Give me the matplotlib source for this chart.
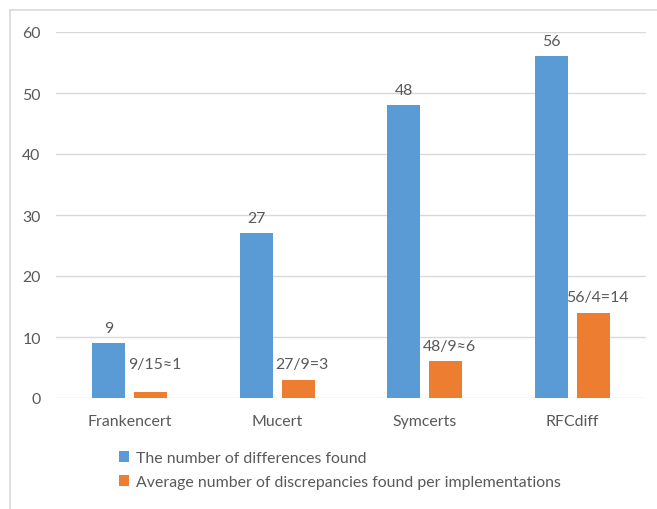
import numpy as np
import matplotlib.pyplot as plt
from matplotlib.lines import Line2D

plt.rcParams['font.family'] = ['Lato', 'DejaVu Sans']

tools = ['Frankencert', 'Mucert', 'Symcerts', 'RFCdiff']
differences = [9, 27, 48, 56]
avg_discrepancies = [1, 3, 6, 14]
avg_labels = ['9/15≈1', '27/9=3', '48/9≈6', '56/4=14']

blue = '#5B9BD5'
orange = '#ED7D31'
text_gray = '#595959'
grid_gray = '#D9D9D9'
fs = 11.4

fig = plt.figure(figsize=(6.57, 5.10), dpi=100)
ax = fig.add_axes([56/657, 1 - 399/510, 590/657, 366/510])

x = np.arange(len(tools))
w = 0.224
off = 0.142
b1 = ax.bar(x - off, differences, w, color=blue, zorder=2,
            label='The number of differences found')
b2 = ax.bar(x + off, avg_discrepancies, w, color=orange, zorder=2,
            label='Average number of discrepancies found per implementations')

for bar, v in zip(b1, differences):
    ax.annotate(str(v), (bar.get_x() + bar.get_width() / 2, v),
                xytext=(0, 6), textcoords='offset points',
                ha='center', va='bottom', fontsize=fs, color=text_gray)

# the first orange label sits a bit higher than the rest
extra = [9, 0, 0, 0]
for bar, v, lab, e in zip(b2, avg_discrepancies, avg_labels, extra):
    ax.annotate(lab, (bar.get_x() + bar.get_width() / 2, v),
                xytext=(3, 6 + e), textcoords='offset points',
                ha='center', va='bottom', fontsize=fs, color=text_gray)

ax.set_xlim(-0.5, len(tools) - 0.5)
ax.set_ylim(0, 60)
ax.set_yticks(range(0, 61, 10))
ax.set_xticks(x)
ax.set_xticklabels(tools)
ax.tick_params(axis='both', length=0, labelsize=fs, labelcolor=text_gray)
ax.tick_params(axis='y', pad=11)
ax.tick_params(axis='x', pad=11.5)
ax.grid(axis='y', color=grid_gray, linewidth=1, zorder=0)
for s in ax.spines.values():
    s.set_visible(False)

# chart frame
fig.add_artist(Line2D([10/657, 10/657], [0, 1 - 11/510], color=grid_gray, lw=1.2,
                      transform=fig.transFigure))
fig.add_artist(Line2D([10/657, 1], [1 - 11/510, 1 - 11/510], color=grid_gray, lw=1.2,
                      transform=fig.transFigure))

fig.legend(handles=[b1, b2], loc='center left',
           bbox_to_anchor=(119/657, 1 - 471/510), frameon=False,
           fontsize=fs, labelcolor=text_gray, handlelength=0.65,
           handleheight=0.65, handletextpad=0.4, labelspacing=0.65,
           borderpad=0, borderaxespad=0)

fig.savefig('out.png', dpi=100)
